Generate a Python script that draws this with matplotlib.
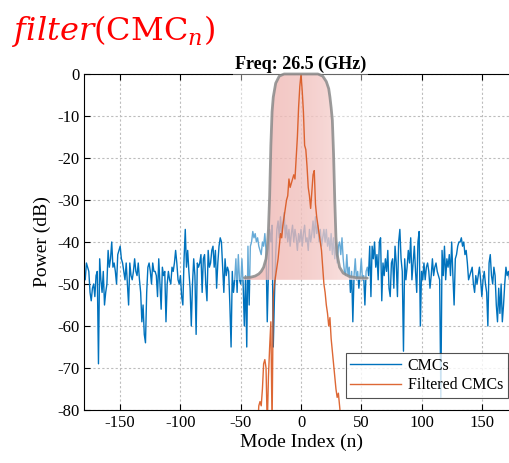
import numpy as np
import matplotlib
matplotlib.use("Agg")
import matplotlib.pyplot as plt
from matplotlib.patches import Polygon, Rectangle
from matplotlib.colors import LinearSegmentedColormap

plt.rcParams['font.family'] = ['Liberation Serif', 'DejaVu Serif']
plt.rcParams['mathtext.fontset'] = 'stix'
plt.rcParams['axes.unicode_minus'] = False

# CMC power (dB), one value per mode index starting at n = -180
cmc_start = -180
cmc_db = [
    -48, -49, -45, -46, -47, -52, -54, -51, -50, -53,
    -48, -47, -69, -44, -49, -52, -47, -55, -52, -50,
    -42, -46, -44, -40, -46, -45, -47, -50, -43, -42,
    -41, -44, -45, -47, -49, -45, -50, -55, -45, -48,
    -49, -47, -44, -47, -48, -45, -49, -52, -59, -55,
    -62, -64, -52, -46, -45, -47, -50, -45, -47,
    -47, -48, -53, -44, -50, -56, -46, -48, -47, -59,
    -50, -47, -49, -50, -46, -47, -45, -42, -45, -49,
    -50, -48, -53, -55, -44, -37, -46, -42, -47, -51,
    -60, -50, -44, -48, -62, -45, -46, -45, -43, -52,
    -44, -43, -50, -54, -42, -46, -45, -42, -41, -46,
    -42, -51, -45, -41, -39, -40, -46, -52, -44, -48,
    -46, -47, -55, -65, -47, -52, -49, -44, -52, -43,
    -49, -50, -44, -50, -60, -48, -65, -41, -55, -41,
    -40, -37.5, -39, -38, -40, -39, -41, -42, -43, -40,
    -41, -38, -42, -59, -47, -37, -40, -36, -65, -53,
    -43, -37,
    -35, -39, -34, -38, -36, -33, -39, -36, -40, -37,
    -41, -38, -36, -40, -37, -39, -42, -38, -40, -37,
    -41, -38, -36, -40, -39, -42, -37, -40, -38, -35,
    -39, -34, -38, -36, -40, -37, -41,
    -39, -37, -40, -37, -41, -39, -42, -38, -43, -39,
    -44, -40, -45, -41, -40, -43, -39, -44, -47, -48,
    -43, -48, -46, -52, -47, -59, -48, -44, -49, -47,
    -51, -48, -44, -49, -48, -55, -47, -46,
    -48, -41, -53, -41, -44, -40, -46, -43, -49, -40,
    -39, -54, -45, -48, -44, -47, -42, -51, -53, -45,
    -44, -51, -41, -45, -53, -40, -37, -44, -47, -66,
    -44, -49, -46, -42, -45, -39, -49, -45, -41, -47,
    -52, -40, -37.5, -60, -47, -49, -45, -49, -46, -45,
    -47, -51, -48, -44, -48, -46, -45, -47, -48,
    -49, -77, -42, -48, -41, -49, -44, -46, -43, -48,
    -40, -48, -55, -44, -43, -41, -40, -40, -39, -41,
    -40, -43, -42, -45, -49, -48, -47, -46, -50, -52,
    -48, -50, -48, -46, -49, -53, -49, -47, -50, -52,
    -60, -45, -43, -48, -50, -46, -48, -55, -59, -51,
    -57, -50, -59, -55, -50, -46, -48, -47, -49, -46,
    -48,
]

# filtered CMC power (dB), starting at n = -36
filt_start = -36
filt_db = [
    -84, -79, -78, -79, -75, -69, -68, -70, -84, -72,
    -65, -59, -84, -53, -50, -48, -46, -44, -41, -38,
    -39, -36, -34, -32, -30, -29, -25, -27, -26, -25,
    -24, -25, -20, -15, -8, -3, 0, -4, -9, -17,
    -18, -22, -27, -29, -32, -28, -24, -23, -31, -34,
    -36, -38, -40, -42, -46, -50, -52, -55, -57, -60,
    -58, -63, -66, -69, -72, -75, -77, -76, -79, -82,
]

# filter window outline (overlay sketch)
win_x = [-47, -42, -38, -35, -33, -31, -29, -28, -27, -26, -25, -24, -23, -21, -18, -14,
         14, 18, 21, 23, 24, 25, 26, 27, 28, 29, 30, 32, 35, 40, 46, 55]
win_y = [-48.5, -48.4, -48.1, -47.6, -47.0, -46.0, -44.0, -41.5, -37.0, -29.0, -17.0, -9.0, -5.5, -2.2, -0.5, 0,
         0, -0.5, -1.8, -3.5, -5.5, -8.0, -11.0, -19.0, -30.0, -39.0, -43.0, -46.0, -47.4, -48.2, -48.5, -48.6]
win_floor = -49

x_ticks = [-150, -100, -50, 0, 50, 100, 150]
y_ticks = [0, -10, -20, -30, -40, -50, -60, -70, -80]

cmc_n = np.arange(cmc_start, cmc_start + len(cmc_db))
filt_n = np.arange(filt_start, filt_start + len(filt_db))

fig = plt.figure(figsize=(5.09, 4.63), dpi=100)
ax = fig.add_axes([84/509, 53/463, 434/509, 336/463])

ax.plot(cmc_n, cmc_db, color='#0072BD', lw=1.0, label='CMCs', zorder=2)
ax.plot(filt_n, filt_db, color='#D95319', lw=1.0, label='Filtered CMCs', alpha=0.88, zorder=3.5)

# faded white box behind the filter sketch
ax.add_patch(Rectangle((-56, win_floor), 111.6, -win_floor + 0.3, facecolor='white',
                       edgecolor='none', alpha=0.4, zorder=2.6, clip_on=False))

# pink gradient filled window
verts = list(zip(win_x, win_y)) + [(win_x[-1], win_floor), (win_x[0], win_floor)]
patch = Polygon(verts, closed=True, facecolor='none', edgecolor='none')
ax.add_patch(patch)
pink = LinearSegmentedColormap.from_list('pink', ['#eba39e', '#efb5b1', '#f8dcda'])
grad = np.linspace(0, 1, 256).reshape(1, -1)
im = ax.imshow(grad, extent=[win_x[0], win_x[-1], win_floor, 0], aspect='auto',
               cmap=pink, alpha=0.66, zorder=3, interpolation='bilinear')
im.set_clip_path(patch)
ax.plot(win_x, win_y, color='#8a8a8a', lw=2.0, alpha=0.85, zorder=4,
        solid_capstyle='round', clip_on=False)

ax.set_xlim(-180, 180)
ax.set_ylim(-80, 0)
ax.set_xticks(x_ticks)
ax.set_yticks(y_ticks)
ax.tick_params(direction='in', top=True, right=True, labelsize=12, length=4, width=0.8)
ax.grid(True, color='#bdbdbd', linestyle=(0, (2, 2)), lw=0.8)
ax.set_axisbelow(True)
for s in ax.spines.values():
    s.set_linewidth(0.8)

ax.set_xlabel('Mode Index (n)', fontsize=14, labelpad=2)
ax.set_ylabel('Power (dB)', fontsize=14, labelpad=4)
ax.set_title('Freq: 26.5 (GHz)', fontsize=13, fontweight='bold', pad=4)

leg = ax.legend(loc='lower right', bbox_to_anchor=(0.977, 0.036), borderaxespad=0,
                fontsize=11.5, frameon=True, fancybox=False, handlelength=3.2,
                borderpad=0.3, labelspacing=0.2, handletextpad=0.4)
leg.get_frame().set_edgecolor('#262626')
leg.get_frame().set_linewidth(0.8)
leg.set_zorder(6)

fig.text(12/509, 1 - 40/463, r'$\mathit{filter}(\mathrm{CMC}_{n})$', color='red',
         fontsize=23, va='baseline', ha='left', math_fontfamily='dejavuserif')

fig.savefig('out.png', dpi=100)
